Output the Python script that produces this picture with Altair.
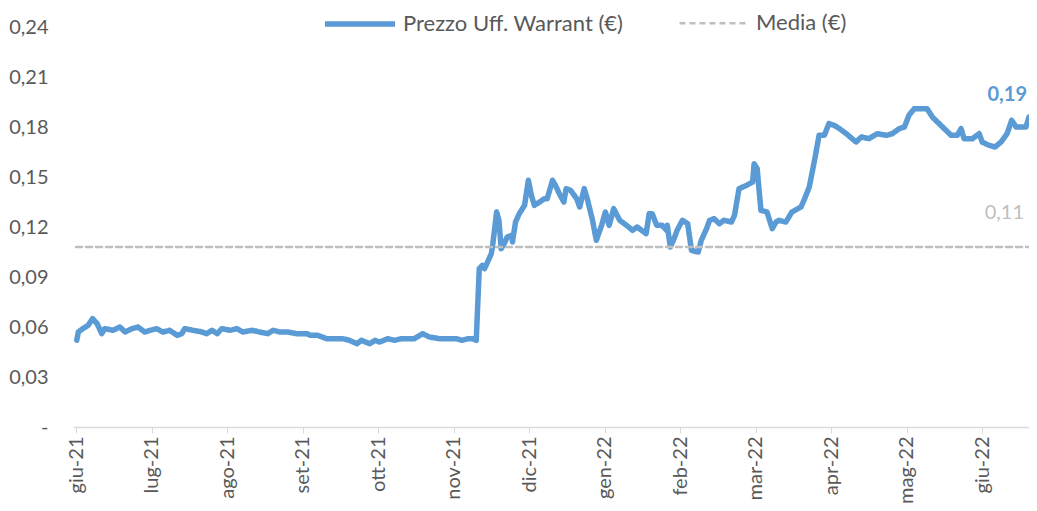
import json
import altair as alt
import pandas as pd

# ---- data ----
# x position expressed in months since start of giu-21 (0 = giu-21 tick)
mesi = [0.01, 0.03, 0.09, 0.16, 0.22, 0.28, 0.34, 0.38, 0.49, 0.58, 0.65, 0.74, 0.82, 0.91, 0.98,
        1.07, 1.15, 1.24, 1.34, 1.40, 1.44, 1.55, 1.67, 1.73, 1.80, 1.87, 1.93, 2.04, 2.13, 2.21,
        2.33, 2.43, 2.54, 2.61, 2.70, 2.80, 2.92, 3.06, 3.10, 3.20, 3.32, 3.43, 3.53, 3.62, 3.72,
        3.78, 3.89, 3.96, 4.02, 4.13, 4.22, 4.31, 4.39, 4.48, 4.59, 4.68, 4.81, 4.95, 5.04, 5.11,
        5.19, 5.25, 5.30, 5.34, 5.38, 5.41, 5.45, 5.50, 5.52, 5.57, 5.60, 5.63, 5.67, 5.71, 5.77,
        5.78, 5.82, 5.87, 5.94, 5.99, 6.03, 6.07, 6.14, 6.20, 6.24, 6.31, 6.36, 6.40, 6.46, 6.49,
        6.55, 6.63, 6.67, 6.73, 6.77, 6.84, 6.89, 6.96, 7.01, 7.06, 7.12, 7.20, 7.29, 7.37, 7.43,
        7.55, 7.59, 7.63, 7.69, 7.76, 7.82, 7.83, 7.87, 7.92, 7.96, 8.03, 8.10, 8.15, 8.24, 8.28,
        8.35, 8.39, 8.45, 8.52, 8.58, 8.68, 8.72, 8.78, 8.88, 8.96, 8.98, 9.02, 9.07, 9.15, 9.22,
        9.27, 9.31, 9.40, 9.48, 9.60, 9.64, 9.71, 9.78, 9.84, 9.91, 9.97, 10.04, 10.11, 10.20,
        10.33, 10.40, 10.50, 10.61, 10.73, 10.81, 10.90, 10.97, 11.03, 11.10, 11.20, 11.27, 11.34,
        11.43, 11.52, 11.59, 11.67, 11.72, 11.76, 11.87, 11.96, 12.00, 12.09, 12.17, 12.25, 12.33,
        12.39, 12.45, 12.58, 12.62]

prezzo = [0.052, 0.057, 0.059, 0.061, 0.065, 0.062, 0.056, 0.059, 0.058, 0.060, 0.057, 0.059, 0.060, 0.057, 0.058,
          0.059, 0.057, 0.058, 0.055, 0.056, 0.059, 0.058, 0.057, 0.056, 0.058, 0.056, 0.059, 0.058, 0.059, 0.057,
          0.058, 0.057, 0.056, 0.058, 0.057, 0.057, 0.056, 0.056, 0.055, 0.055, 0.053, 0.053, 0.053, 0.052, 0.050,
          0.052, 0.050, 0.052, 0.051, 0.053, 0.052, 0.053, 0.053, 0.053, 0.056, 0.054, 0.053, 0.053, 0.053, 0.052,
          0.053, 0.053, 0.052, 0.095, 0.097, 0.095, 0.099, 0.104, 0.110, 0.129, 0.124, 0.107, 0.110, 0.114, 0.115,
          0.111, 0.123, 0.128, 0.133, 0.148, 0.139, 0.133, 0.135, 0.137, 0.137, 0.148, 0.144, 0.140, 0.135, 0.143,
          0.142, 0.137, 0.132, 0.143, 0.137, 0.124, 0.112, 0.121, 0.129, 0.121, 0.131, 0.124, 0.121, 0.118, 0.120,
          0.116, 0.128, 0.128, 0.121, 0.121, 0.118, 0.121, 0.108, 0.113, 0.118, 0.124, 0.122, 0.106, 0.105, 0.112,
          0.119, 0.124, 0.125, 0.122, 0.124, 0.123, 0.127, 0.143, 0.145, 0.147, 0.158, 0.155, 0.130, 0.129, 0.119,
          0.123, 0.124, 0.123, 0.129, 0.132, 0.136, 0.144, 0.160, 0.175, 0.175, 0.182, 0.181, 0.179, 0.176,
          0.171, 0.174, 0.173, 0.176, 0.175, 0.176, 0.179, 0.180, 0.187, 0.191, 0.191, 0.191, 0.186,
          0.182, 0.178, 0.175, 0.175, 0.179, 0.173, 0.173, 0.176, 0.171, 0.169, 0.168, 0.171, 0.176,
          0.184, 0.180, 0.180, 0.186]

etichette_mesi = ["giu-21", "lug-21", "ago-21", "set-21", "ott-21", "nov-21", "dic-21",
                  "gen-22", "feb-22", "mar-22", "apr-22", "mag-22", "giu-22"]

media_valore = 0.108
serie_prezzo = "Prezzo Uff. Warrant (€)"
serie_media = "Media (€)"
colori = ["#5B9BD5", "#BFBFBF"]

FONT = "Lato"
GRIGIO = "#595959"

df_p = pd.DataFrame({"mese": mesi, "valore": prezzo, "serie": serie_prezzo})
df_m = pd.DataFrame({"mese": [0.0, mesi[-1]], "valore": [media_valore, media_valore], "serie": serie_media})
df = pd.concat([df_p, df_m], ignore_index=True)

label_expr_x = json.dumps(etichette_mesi) + "[round(datum.value)]"

x_enc = alt.X(
    "mese:Q",
    scale=alt.Scale(domain=[-0.04, 12.62], nice=False, zero=False),
    axis=alt.Axis(
        values=list(range(len(etichette_mesi))),
        labelExpr=label_expr_x,
        labelAngle=270,
        labelAlign="right",
        labelBaseline="middle",
        labelFont=FONT,
        labelFontSize=20,
        labelColor=GRIGIO,
        labelPadding=3,
        labelOverlap=False,
        labelFlush=False,
        grid=False,
        domainColor="#D9D9D9",
        domainWidth=1.5,
        tickColor="#D9D9D9",
        tickSize=6,
        title=None,
    ),
)

y_enc = alt.Y(
    "valore:Q",
    scale=alt.Scale(domain=[0, 0.24], nice=False),
    axis=alt.Axis(
        values=[0, 0.03, 0.06, 0.09, 0.12, 0.15, 0.18, 0.21, 0.24],
        labelExpr="abs(datum.value) < 1e-9 ? '-' : replace(format(datum.value, '.2f'), '.', ',')",
        labelFont=FONT,
        labelFontSize=20,
        labelColor=GRIGIO,
        labelPadding=25,
        ticks=False,
        tickSize=0,
        domain=False,
        grid=False,
        title=None,
    ),
)

color_enc = alt.Color(
    "serie:N",
    scale=alt.Scale(domain=[serie_prezzo, serie_media], range=colori),
    legend=alt.Legend(
        title=None,
        orient="none",
        legendX=249,
        legendY=-41,
        direction="horizontal",
        symbolType="stroke",
        symbolSize=4900,
        symbolStrokeWidth=4,
        labelFont=FONT,
        labelFontSize=22,
        labelColor=GRIGIO,
        labelOffset=5,
        labelLimit=400,
        columnPadding=50,
    ),
)
dash_enc = alt.StrokeDash(
    "serie:N",
    scale=alt.Scale(domain=[serie_prezzo, serie_media], range=[[1, 0], [6, 4]]),
    legend=alt.Legend(title=None),
)
width_enc = alt.StrokeWidth(
    "serie:N",
    scale=alt.Scale(domain=[serie_prezzo, serie_media], range=[5.5, 2.5]),
    legend=None,
)

linee = alt.Chart(df).mark_line(strokeCap="round", strokeJoin="round").encode(
    x=x_enc, y=y_enc, color=color_enc, strokeDash=dash_enc, strokeWidth=width_enc,
    order=alt.Order("mese:Q"),
)

df_lab_p = pd.DataFrame({"mese": [mesi[-1]], "valore": [prezzo[-1]],
                         "testo": [f"{prezzo[-1]:.2f}".replace(".", ",")]})
df_lab_m = pd.DataFrame({"mese": [mesi[-1]], "valore": [media_valore],
                         "testo": [f"{media_valore:.2f}".replace(".", ",")]})

lab_p = alt.Chart(df_lab_p).mark_text(
    align="right", baseline="middle", dx=-2, dy=-22, font=FONT, fontSize=20,
    fontWeight="bold", color=colori[0],
).encode(x="mese:Q", y="valore:Q", text="testo:N")

lab_m = alt.Chart(df_lab_m).mark_text(
    align="right", baseline="middle", dx=-5, dy=-34, font=FONT, fontSize=20,
    color=colori[1],
).encode(x="mese:Q", y="valore:Q", text="testo:N")

chart = alt.layer(linee, lab_p, lab_m).properties(
    width=956,
    height=400,
    autosize=alt.AutoSizeParams(type="none"),
    padding={"left": 65, "top": 19, "right": 0, "bottom": 76},
).configure_view(stroke=None)

chart.save("out.html", embed_options={"renderer": "svg", "actions": False})
